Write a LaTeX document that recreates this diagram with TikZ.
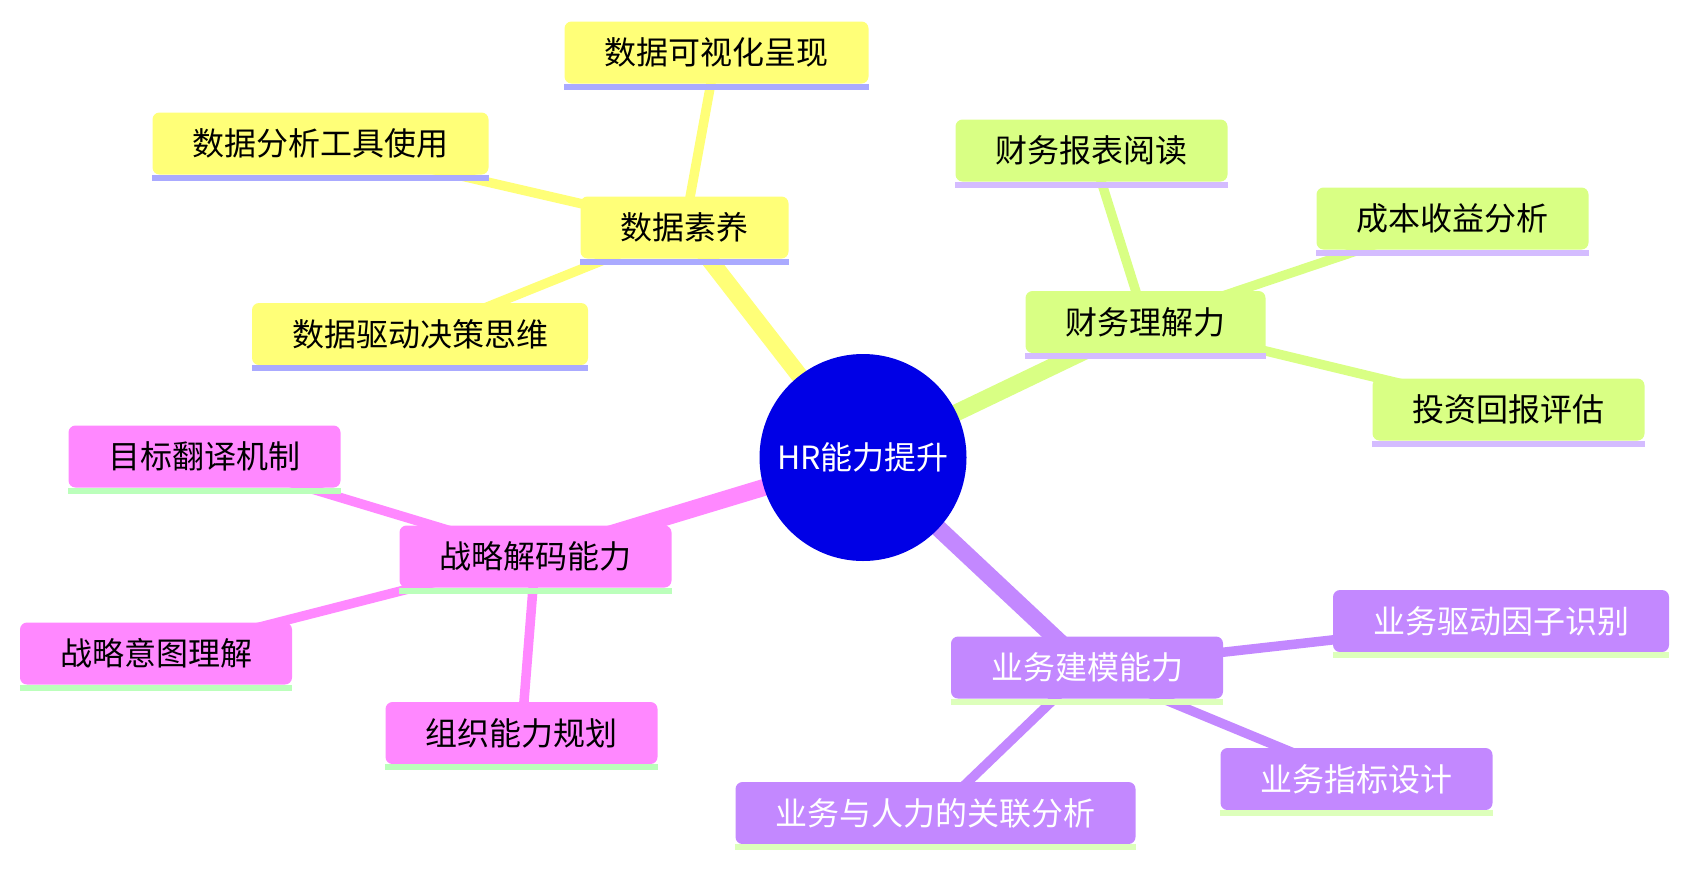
\documentclass[tikz,border=0pt]{standalone}
\usepackage{fontspec}
\setmainfont{Noto Sans CJK SC}
\usetikzlibrary{backgrounds}
\definecolor{SecYellow}{HTML}{FFFF78}
\definecolor{SecGreen}{HTML}{D9FF84}
\definecolor{SecPink}{HTML}{FF88FF}
\definecolor{SecPurple}{HTML}{C388FF}
\definecolor{LineBlue}{HTML}{AAAAFF}
\definecolor{LineLilac}{HTML}{D4BCFF}
\definecolor{LineMint}{HTML}{BBFFBB}
\definecolor{LineLime}{HTML}{DDFFBB}
\definecolor{RootBlue}{HTML}{0000E6}
\tikzset{
	root/.style={circle,fill=RootBlue,text=white,minimum size=207pt,inner sep=0pt,
		font=\fontsize{32}{38}\selectfont},
	topic/.style={rounded corners=7pt,minimum height=62pt,inner xsep=40pt,inner ysep=0pt,
		font=\fontsize{32}{38}\selectfont},
	mainedge/.style={line width=17pt},
	subedge/.style={line width=9.5pt},
}

\begin{document}
\begin{tikzpicture}[x=1pt,y=-1pt]
	\useasboundingbox (0,0) rectangle (1688,868);
	\node[root] (hr) at (863,457.5) {HR能力提升};
	% data literacy
	\node[topic,fill=SecYellow] (dsy) at (684.5,227.5) {数据素养};
	\node[topic,fill=SecYellow] (vis) at (716.5,52.5) {数据可视化呈现};
	\node[topic,fill=SecYellow] (tool) at (320.5,143.5) {数据分析工具使用};
	\node[topic,fill=SecYellow] (dec) at (420,334) {数据驱动决策思维};
	% finance
	\node[topic,fill=SecGreen] (fin) at (1145.5,322) {财务理解力};
	\node[topic,fill=SecGreen] (rep) at (1091.5,150.5) {财务报表阅读};
	\node[topic,fill=SecGreen] (cost) at (1452.5,218.5) {成本收益分析};
	\node[topic,fill=SecGreen] (roi) at (1508.5,409.5) {投资回报评估};
	% strategy
	\node[topic,fill=SecPink] (stg) at (535.5,556.5) {战略解码能力};
	\node[topic,fill=SecPink] (goal) at (204.5,456.5) {目标翻译机制};
	\node[topic,fill=SecPink] (intent) at (156,653.5) {战略意图理解};
	\node[topic,fill=SecPink] (org) at (521.5,733) {组织能力规划};
	% business modelling
	\node[topic,fill=SecPurple,text=white] (biz) at (1087,667.5) {业务建模能力};
	\node[topic,fill=SecPurple,text=white] (drv) at (1501,621) {业务驱动因子识别};
	\node[topic,fill=SecPurple,text=white] (kpi) at (1356.5,779) {业务指标设计};
	\node[topic,fill=SecPurple,text=white] (rel) at (935.5,813) {业务与人力的关联分析};
	% underlines
	\foreach \n in {dsy,vis,tool,dec}
		\fill[LineBlue] (\n.south west) rectangle ([yshift=-6pt]\n.south east);
	\foreach \n in {fin,rep,cost,roi}
		\fill[LineLilac] (\n.south west) rectangle ([yshift=-6pt]\n.south east);
	\foreach \n in {stg,goal,intent,org}
		\fill[LineMint] (\n.south west) rectangle ([yshift=-6pt]\n.south east);
	\foreach \n in {biz,drv,kpi,rel}
		\fill[LineLime] (\n.south west) rectangle ([yshift=-6pt]\n.south east);
	% edges
	\begin{scope}[on background layer]
		\draw[mainedge,SecYellow] (hr.center) -- (dsy.center);
		\draw[mainedge,SecGreen] (hr.center) -- (fin.center);
		\draw[mainedge,SecPink] (hr.center) -- (stg.center);
		\draw[mainedge,SecPurple] (hr.center) -- (biz.center);
		\foreach \n in {vis,tool,dec}
			\draw[subedge,SecYellow] (dsy.center) -- (\n.center);
		\foreach \n in {rep,cost,roi}
			\draw[subedge,SecGreen] (fin.center) -- (\n.center);
		\foreach \n in {goal,intent,org}
			\draw[subedge,SecPink] (stg.center) -- (\n.center);
		\foreach \n in {drv,kpi,rel}
			\draw[subedge,SecPurple] (biz.center) -- (\n.center);
	\end{scope}
\end{tikzpicture}
\end{document}
